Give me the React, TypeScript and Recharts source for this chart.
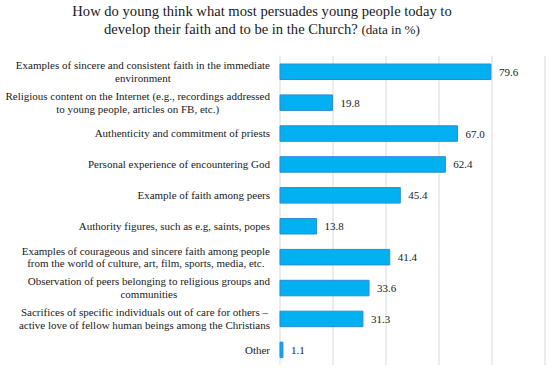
import React from 'react';
import { BarChart, Bar, XAxis, YAxis, CartesianGrid, LabelList } from 'recharts';

const categories: string[][] = [
  ['Examples of sincere and consistent faith in the immediate', 'environment'],
  ['Religious content on the Internet (e.g., recordings addressed', 'to young people, articles on FB, etc.)'],
  ['Authenticity and commitment of priests'],
  ['Personal experience of encountering God'],
  ['Example of faith among peers'],
  ['Authority figures, such as e.g, saints, popes'],
  ['Examples of courageous and sincere faith among people', 'from the world of culture, art, film, sports, media, etc.'],
  ['Observation of peers belonging to religious groups and', 'communities'],
  ['Sacrifices of specific individuals out of care for others \u2013', 'active love of fellow human beings among the Christians'],
  ['Other'],
];
const values: number[] = [79.6, 19.8, 67.0, 62.4, 45.4, 13.8, 41.4, 33.6, 31.3, 1.1];
const xTicks: number[] = [0, 20, 40, 60, 80, 100];
const titleLine1 = 'How do young think what most persuades young people today to';
const titleLine2a = 'develop their faith and to be in the Church? ';
const titleLine2b = '(data in %)';

const data = categories.map((lines, i) => ({ name: String(i), lines, value: values[i] }));

const FONT = '"Liberation Serif", "Times New Roman", serif';
const LABEL_SIZE = 11;
const LINE_H = 12.7;

let ctx: CanvasRenderingContext2D | null = null;
function measure(t: string): number {
  if (!ctx) {
    const c = document.createElement('canvas');
    ctx = c.getContext('2d');
  }
  if (!ctx) return t.length * LABEL_SIZE * 0.43;
  ctx.font = `${LABEL_SIZE}px "Liberation Serif", serif`;
  return ctx.measureText(t).width;
}

const CategoryTick = (props: any) => {
  const { x, y, payload } = props;
  const item = data[Number(payload.value)];
  if (!item) return null;
  const lines = item.lines;
  const w = Math.max(...lines.map(measure));
  const cx = x - w / 2;
  const startY = y - ((lines.length - 1) * LINE_H) / 2;
  return (
    <text
      x={cx}
      y={startY}
      textAnchor="middle"
      dominantBaseline="central"
      fontFamily={FONT}
      style={{ fontFamily: FONT, fontSize: LABEL_SIZE, fill: '#1a1a1a' }}
    >
      {lines.map((l: string, i: number) => (
        <tspan key={i} x={cx} y={startY + i * LINE_H} style={{ fontFamily: FONT }}>{l}</tspan>
      ))}
    </text>
  );
};

const ValueLabel = (props: any) => {
  const { x, y, width, height, value } = props;
  return (
    <text
      x={x + width + 8}
      y={y + height / 2}
      dominantBaseline="central"
      fontFamily={FONT}
      style={{ fontFamily: FONT, fontSize: 11, fill: '#1a1a1a' }}
    >
      {Number(value).toFixed(1)}
    </text>
  );
};

export default function App() {
  return (
    <div style={{ position: 'absolute', left: 0, top: 0, width: 550, height: 371, background: '#fff', fontFamily: FONT }}>
      <div
        style={{
          position: 'absolute',
          left: 0,
          top: 2,
          width: 524,
          textAlign: 'center',
          fontFamily: FONT,
          fontSize: 14.6,
          lineHeight: '18px',
          color: '#1a1a1a',
        }}
      >
        <div>{titleLine1}</div>
        <div>
          {titleLine2a}
          <span style={{ fontSize: 13.2 }}>{titleLine2b}</span>
        </div>
      </div>
      <BarChart
        width={550}
        height={371}
        data={data}
        layout="vertical"
        margin={{ top: 56, right: 5, bottom: 6, left: 0 }}
        barSize={15.5}
        style={{ fontFamily: FONT }}
      >
        <CartesianGrid horizontal={false} vertical={true} stroke="#d9d9d9" />
        <XAxis type="number" domain={[0, 100]} ticks={xTicks} hide />
        <YAxis
          type="category"
          dataKey="name"
          width={280}
          axisLine={false}
          tickLine={false}
          tickSize={0}
          tickMargin={10}
          interval={0}
          tick={<CategoryTick />}
        />
        <Bar dataKey="value" fill="#00B0F0" stroke="#2B8BD8" strokeWidth={1} isAnimationActive={false}>
          <LabelList dataKey="value" content={<ValueLabel />} />
        </Bar>
      </BarChart>
    </div>
  );
}
